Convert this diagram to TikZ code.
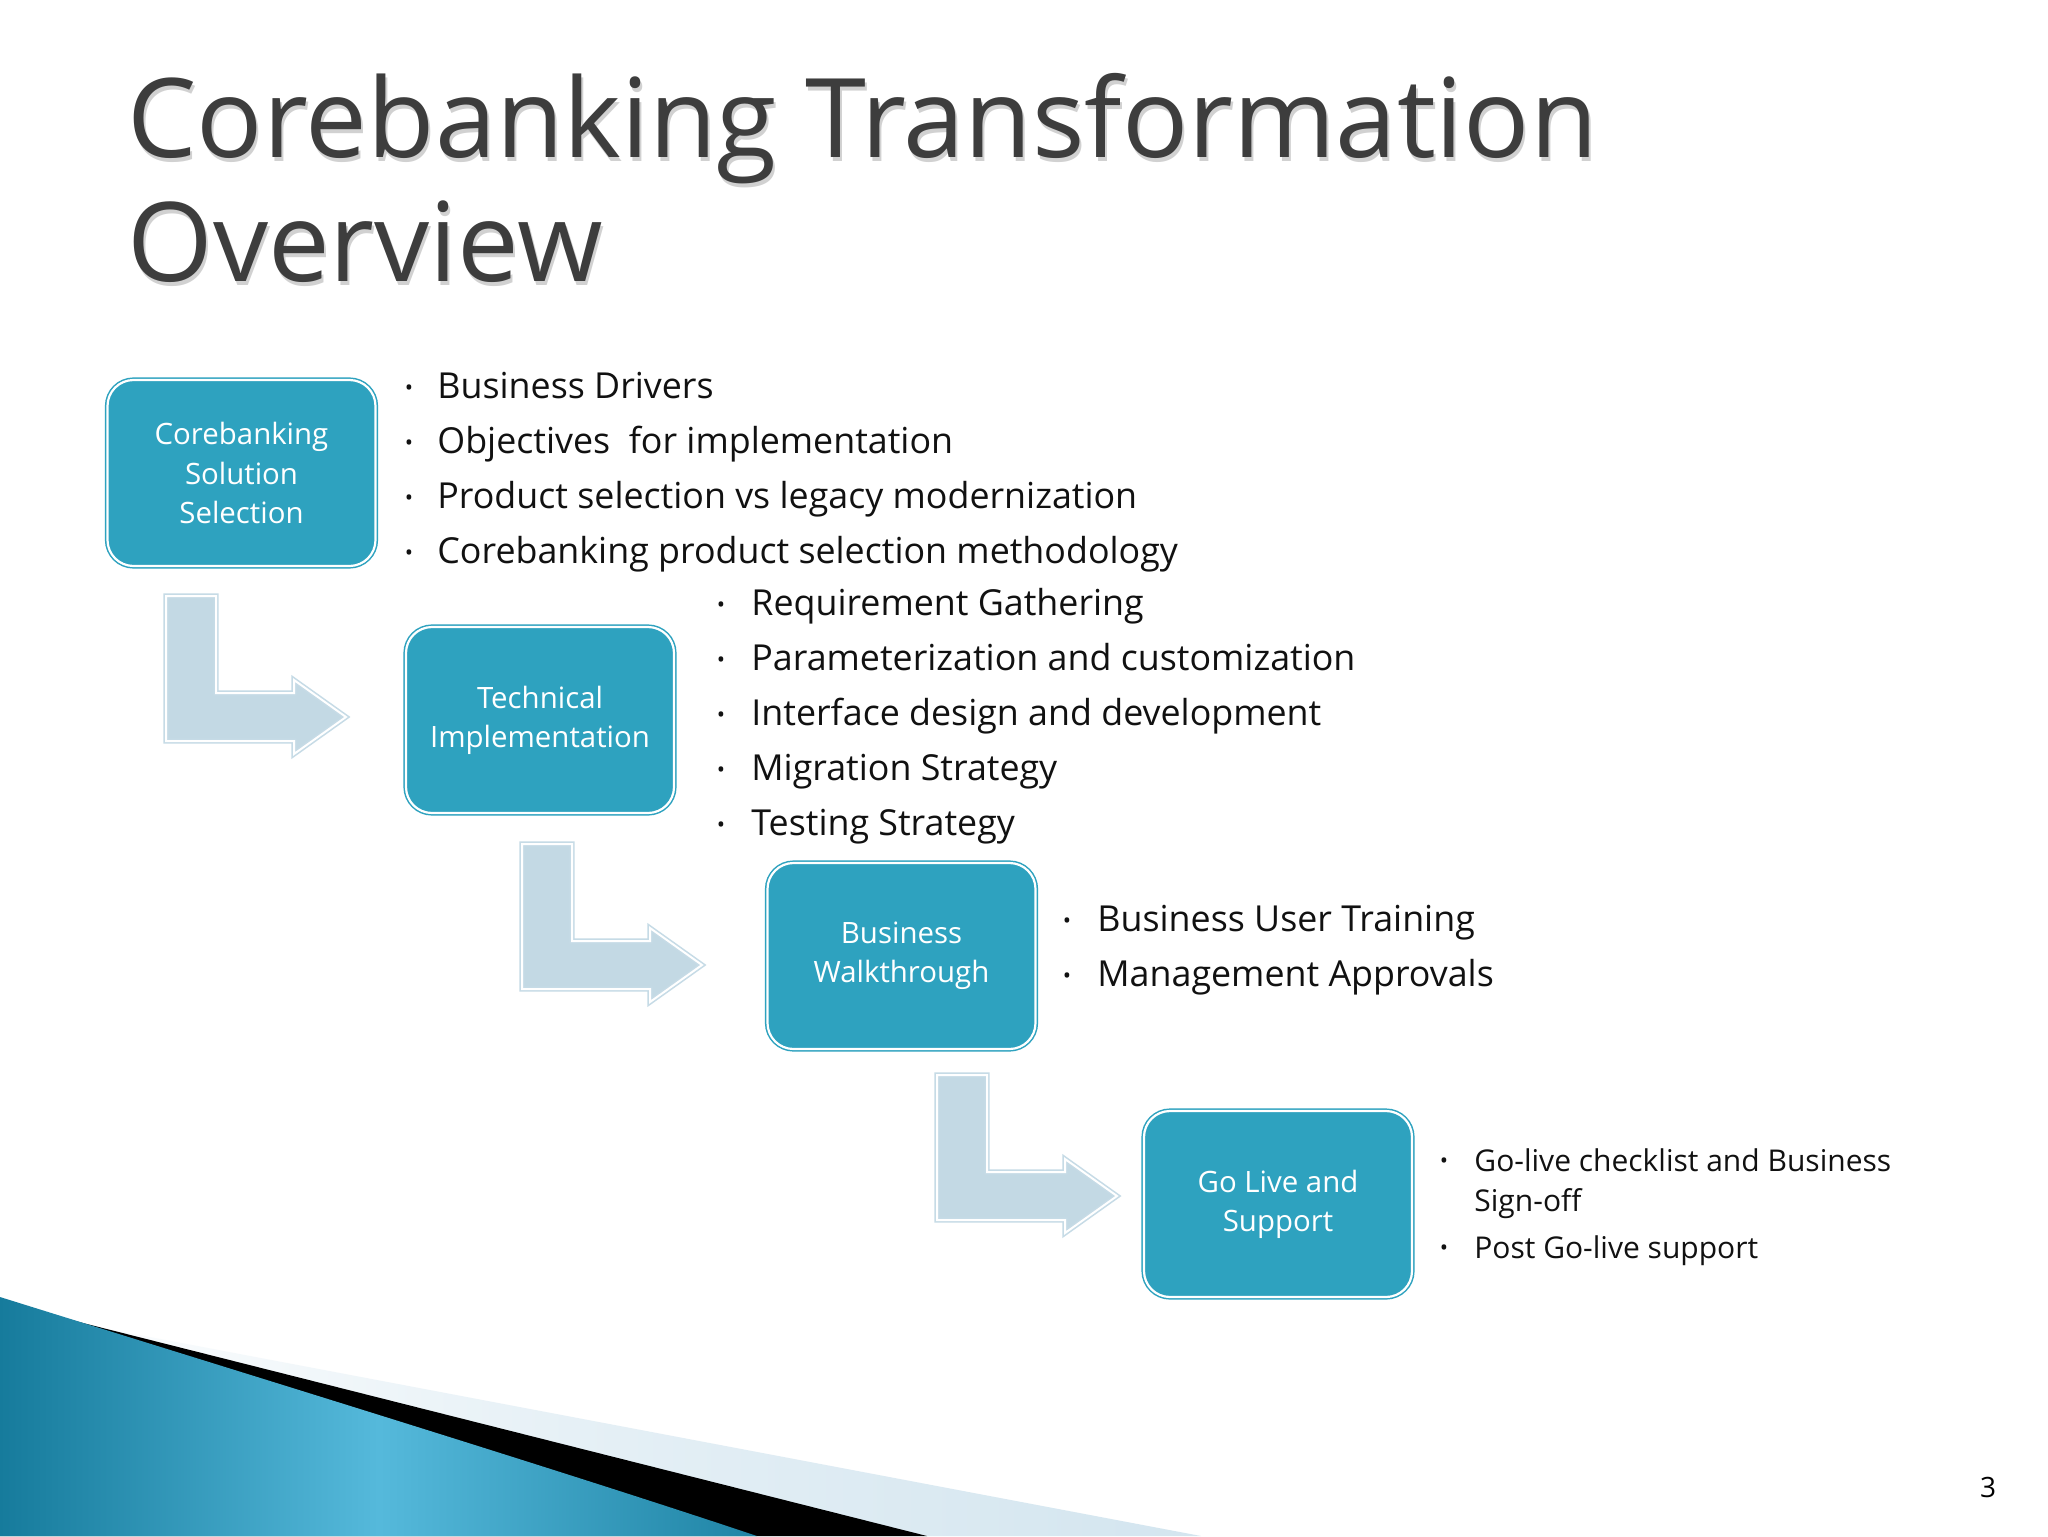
\documentclass[tikz,border=0pt]{standalone}
\usepackage{fontspec}
\setmainfont{Open Sans}
\definecolor{boxteal}{HTML}{2EA2BF}
\definecolor{arrowfill}{HTML}{C3D9E4}
\definecolor{arrowline}{HTML}{C6DBE6}
\definecolor{titlegray}{HTML}{3D3D3D}
\definecolor{bodytext}{HTML}{111111}
\definecolor{decodark}{HTML}{167B9C}
\definecolor{decolight}{HTML}{55B9DB}
\definecolor{decopale}{HTML}{D3E5EF}
\tikzset{
  stagebox/.style={rectangle, rounded corners=13pt, fill=boxteal, draw=boxteal,
    double=white, double distance=1.1pt, line width=0.75pt,
    minimum width=134pt, minimum height=93pt, inner sep=0pt,
    text=white, align=center, font=\fontsize{14.7}{19.6}\selectfont},
  bentarrow/.style={fill=arrowfill, draw=arrowline, double=white,
    double distance=1pt, line width=0.8pt},
  titletext/.style={anchor=base west, inner sep=0pt, text=titlegray,
    font=\fontsize{55}{62}\selectfont},
  titleshadow/.style={anchor=base west, inner sep=0pt, text=black!18,
    font=\fontsize{55}{62}\selectfont},
  bigitem/.style={anchor=base west, inner sep=0pt, text=bodytext,
    font=\fontsize{17.9}{20}\selectfont},
  smallitem/.style={anchor=base west, inner sep=0pt, text=bodytext,
    font=\fontsize{15}{19.6}\selectfont, align=left},
  bulletdot/.style={anchor=base, inner sep=0pt, text=bodytext,
    font=\fontsize{11}{12}\selectfont},
}
\newcommand\blockarrow[3]{%
  \draw[bentarrow, shift={(#2,#3)}] (0,0) -- (50,0) -- (50,97) -- (128,97)
    -- (128,84) -- (180,121) -- (128,158) -- (128,145) -- (0,145) -- cycle;
  \coordinate (#1) at (#2,#3);}
\begin{document}
\begin{tikzpicture}[x=0.5pt,y=-0.5pt]
\useasboundingbox (0,0) rectangle (2048,1536);
\fill[white] (0,0) rectangle (2048,1536);

% bottom-left decoration
\shade[left color=white, right color=decopale, middle color=decopale!60!white]
  (60,1320) -- (1201,1536) -- (0,1536) -- (0,1300) -- cycle;
\fill[black] (83,1323) -- (927,1536) -- (0,1536) -- (0,1300) -- cycle;
\shade[left color=decodark, right color=decodark!85!decolight, middle color=decolight]
  (0,1297) .. controls (250,1375) and (560,1470) .. (757,1536) -- (0,1536) -- cycle;

% title
\node[titleshadow] (t1s) at (129,161) {Corebanking Transformation};
\node[titleshadow] (t2s) at (129,285) {Overview};
\node[titletext] (t1) at (127,157) {Corebanking Transformation};
\node[titletext] (t2) at (127,281) {Overview};

% arrows
\blockarrow{a1}{166}{596}
\blockarrow{a2}{522}{844}
\blockarrow{a3}{937}{1075}

% stage boxes
\node[stagebox] (b1) at (241.5,473) {Corebanking\\Solution\\Selection};
\node[stagebox] (b2) at (540,720) {Technical\\Implementation};
\node[stagebox] (b3) at (901.5,956) {Business\\Walkthrough};
\node[stagebox] (b4) at (1278,1204) {Go Live and\\Support};

% list 1
\foreach \y/\t [count=\i] in {398/Business Drivers,
  453/{Objectives\ \ for implementation},
  508/Product selection vs legacy modernization,
  563/Corebanking product selection methodology}{
  \node[bulletdot] (d1\i) at (409,\y-3) {•};
  \node[bigitem] (l1\i) at (437,\y) {\t};
}
% list 2
\foreach \y/\t [count=\i] in {615/Requirement Gathering,
  670/Parameterization and customization,
  725/Interface design and development,
  780/Migration Strategy,
  835/Testing Strategy}{
  \node[bulletdot] (d2\i) at (721,\y-3) {•};
  \node[bigitem] (l2\i) at (751,\y) {\t};
}
% list 3
\foreach \y/\t [count=\i] in {931/Business User Training,
  986/Management Approvals}{
  \node[bulletdot] (d3\i) at (1067,\y-3) {•};
  \node[bigitem] (l3\i) at (1097,\y) {\t};
}
% list 4
\node[bulletdot] (d41) at (1444,1168) {•};
\node[smallitem] (l41) at (1474,1171) {Go-live checklist and Business};
\node[smallitem] (l41b) at (1474,1211) {Sign-off};
\node[bulletdot] (d42) at (1444,1255) {•};
\node[smallitem] (l42) at (1474,1258) {Post Go-live support};

% page number
\node[anchor=base, inner sep=0pt, font=\fontsize{14}{16}\selectfont] (pg) at (1988,1497) {3};
\end{tikzpicture}
\end{document}
